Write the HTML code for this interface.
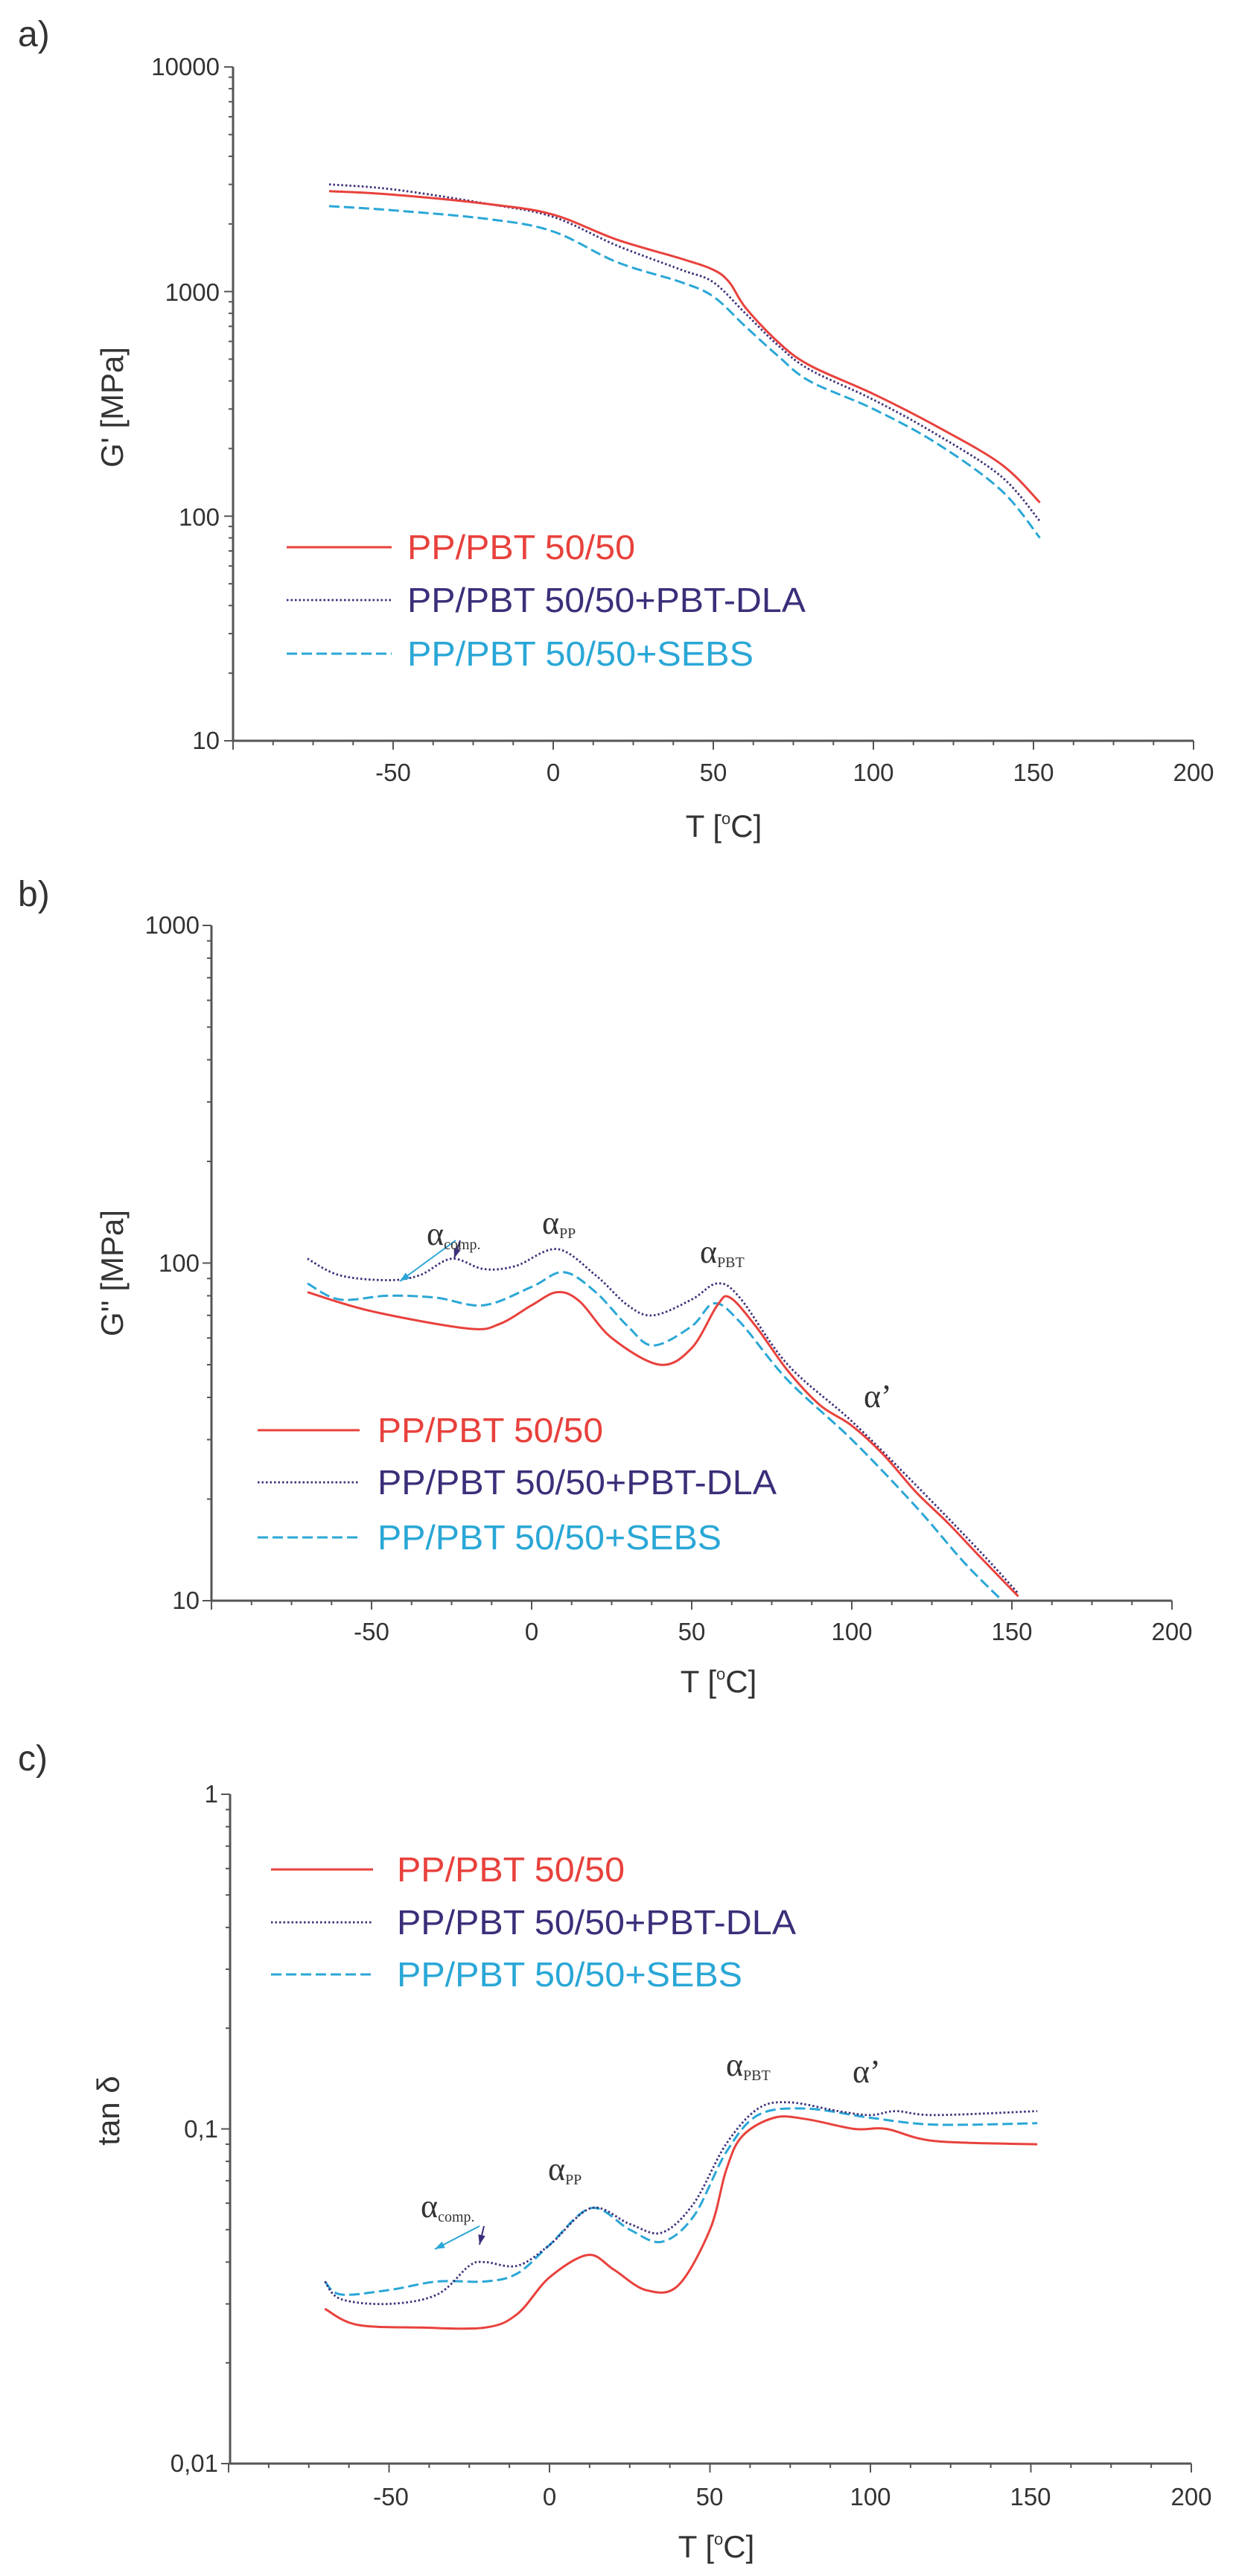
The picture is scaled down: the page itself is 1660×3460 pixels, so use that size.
<!DOCTYPE html>
<html><head><meta charset="utf-8"><style>
html,body{margin:0;padding:0;background:#fff}
svg{display:block}
text{font-family:"Liberation Sans",sans-serif;fill:#333}
.tk{font-size:33px;text-anchor:middle}
.yt{font-size:33px;text-anchor:end}
.lab{font-size:42px}
.pl{font-size:48px}
.lg{font-size:46px}
.gr{font-family:"Liberation Serif",serif;font-size:44px;fill:#333}
.sb{font-family:"Liberation Serif",serif;font-size:20px;fill:#333}
</style></head><body>
<svg width="1660" height="3460" viewBox="0 0 1660 3460" xmlns="http://www.w3.org/2000/svg">
<g id="g"></g>
<!-- panel a -->
<text x="24" y="62" class="pl">a)</text>
<text x="295" y="101" class="yt">10000</text>
<text x="295" y="404" class="yt">1000</text>
<text x="295" y="706" class="yt">100</text>
<text x="295" y="1006" class="yt">10</text>
<text x="528" y="1049" class="tk">-50</text>
<text x="743" y="1049" class="tk">0</text>
<text x="958" y="1049" class="tk">50</text>
<text x="1173" y="1049" class="tk">100</text>
<text x="1388" y="1049" class="tk">150</text>
<text x="1603" y="1049" class="tk">200</text>
<text x="972" y="1124" class="lab" text-anchor="middle">T [<tspan font-size="22" dy="-17">o</tspan><tspan dy="17">C]</tspan></text>
<text transform="translate(165,547) rotate(-90)" class="lab" text-anchor="middle">G' [MPa]</text>
<text x="547" y="751" class="lg" style="fill:#e8413c" textLength="306" lengthAdjust="spacingAndGlyphs">PP/PBT 50/50</text>
<text x="547" y="822" class="lg" style="fill:#3b2f7a" textLength="535" lengthAdjust="spacingAndGlyphs">PP/PBT 50/50+PBT-DLA</text>
<text x="547" y="894" class="lg" style="fill:#2aa7d6" textLength="465" lengthAdjust="spacingAndGlyphs">PP/PBT 50/50+SEBS</text>
<!-- panel b -->
<text x="24" y="1217" class="pl">b)</text>
<text x="268" y="1254" class="yt">1000</text>
<text x="268" y="1708" class="yt">100</text>
<text x="268" y="2161" class="yt">10</text>
<text x="499" y="2203" class="tk">-50</text>
<text x="714" y="2203" class="tk">0</text>
<text x="929" y="2203" class="tk">50</text>
<text x="1144" y="2203" class="tk">100</text>
<text x="1359" y="2203" class="tk">150</text>
<text x="1574" y="2203" class="tk">200</text>
<text x="965" y="2273" class="lab" text-anchor="middle">T [<tspan font-size="22" dy="-17">o</tspan><tspan dy="17">C]</tspan></text>
<text transform="translate(165,1710) rotate(-90)" class="lab" text-anchor="middle">G'' [MPa]</text>
<text x="507" y="1937" class="lg" style="fill:#e8413c" textLength="303" lengthAdjust="spacingAndGlyphs">PP/PBT 50/50</text>
<text x="507" y="2007" class="lg" style="fill:#3b2f7a" textLength="536" lengthAdjust="spacingAndGlyphs">PP/PBT 50/50+PBT-DLA</text>
<text x="507" y="2081" class="lg" style="fill:#2aa7d6" textLength="462" lengthAdjust="spacingAndGlyphs">PP/PBT 50/50+SEBS</text>
<text x="573" y="1672" class="gr">α<tspan class="sb" dy="6">comp.</tspan></text>
<text x="728" y="1657" class="gr">α<tspan class="sb" dy="6">PP</tspan></text>
<text x="940" y="1696" class="gr">α<tspan class="sb" dy="6">PBT</tspan></text>
<text x="1160" y="1890" class="gr">α’</text>
<!-- panel c -->
<text x="24" y="2378" class="pl">c)</text>
<text x="293" y="2421" class="yt">1</text>
<text x="293" y="2871" class="yt">0,1</text>
<text x="293" y="3320" class="yt">0,01</text>
<text x="525" y="3365" class="tk">-50</text>
<text x="738" y="3365" class="tk">0</text>
<text x="953" y="3365" class="tk">50</text>
<text x="1169" y="3365" class="tk">100</text>
<text x="1384" y="3365" class="tk">150</text>
<text x="1600" y="3365" class="tk">200</text>
<text x="962" y="3435" class="lab" text-anchor="middle">T [<tspan font-size="22" dy="-17">o</tspan><tspan dy="17">C]</tspan></text>
<text transform="translate(160,2835) rotate(-90)" class="lab" text-anchor="middle">tan δ</text>
<text x="533" y="2527" class="lg" style="fill:#e8413c" textLength="306" lengthAdjust="spacingAndGlyphs">PP/PBT 50/50</text>
<text x="533" y="2598" class="lg" style="fill:#3b2f7a" textLength="536" lengthAdjust="spacingAndGlyphs">PP/PBT 50/50+PBT-DLA</text>
<text x="533" y="2668" class="lg" style="fill:#2aa7d6" textLength="464" lengthAdjust="spacingAndGlyphs">PP/PBT 50/50+SEBS</text>
<text x="565" y="2978" class="gr">α<tspan class="sb" dy="6">comp.</tspan></text>
<text x="736" y="2928" class="gr">α<tspan class="sb" dy="6">PP</tspan></text>
<text x="975" y="2788" class="gr">α<tspan class="sb" dy="6">PBT</tspan></text>
<text x="1145" y="2797" class="gr">α’</text>
</svg>
<script>
var g=document.getElementById('g'),NS='http://www.w3.org/2000/svg';
function el(t,a){var e=document.createElementNS(NS,t);for(var k in a)e.setAttribute(k,a[k]);g.appendChild(e);return e;}
var R='#e8413c',P='#3b2f7a',C='#2aa7d6';
var sty={r:{stroke:R,'stroke-width':3,fill:'none'},p:{stroke:P,'stroke-width':2.8,fill:'none','stroke-dasharray':'2.5 3'},c:{stroke:C,'stroke-width':3,fill:'none','stroke-dasharray':'14 6'}};
function path(pts){var d='M'+pts[0][0]+','+pts[0][1];for(var i=0;i<pts.length-1;i++){var p0=pts[i-1]||pts[i],p1=pts[i],p2=pts[i+1],p3=pts[i+2]||p2;
d+=' C'+(p1[0]+(p2[0]-p0[0])/6).toFixed(1)+','+(p1[1]+(p2[1]-p0[1])/6).toFixed(1)+' '+(p2[0]-(p3[0]-p1[0])/6).toFixed(1)+','+(p2[1]-(p3[1]-p1[1])/6).toFixed(1)+' '+p2[0].toFixed(1)+','+p2[1].toFixed(1);}return d;}
function panel(o){
 var X=function(t){return o.x0+o.sx*t},Y=function(v){return o.ybot-(Math.log10(v)-o.lmin)*o.dec};
 var ax=o.ax,yt=o.ybot-o.nd*o.dec,yb=o.ybot;
 el('path',{d:'M'+ax+','+yt+'V'+yb+'H'+X(200),stroke:'#555','stroke-width':3,fill:'none'});
 for(var t=-100;t<=200;t+=12.5){var maj=t%50==0;el('line',{x1:X(t),x2:X(t),y1:yb,y2:yb+(maj?12:6),stroke:'#555','stroke-width':2});}
 for(var d=0;d<o.nd;d++)for(var m=1;m<10;m++){var y=yb-(d+Math.log10(m))*o.dec;el('line',{x1:ax,x2:ax-(m==1?12:6),y1:y,y2:y,stroke:'#555','stroke-width':2});}
 el('line',{x1:ax,x2:ax-12,y1:yt,y2:yt,stroke:'#555','stroke-width':2});
 ['c','p','r'].forEach(function(k){var pts=o.d[k].map(function(q){return [X(q[0]),Y(q[1])];});
  var a={d:path(pts)};for(var s in sty[k])a[s]=sty[k][s];el('path',a);});
 o.leg.forEach(function(L,i){var a={x1:o.lx[0],x2:o.lx[1],y1:L,y2:L};var k=['r','p','c'][i];for(var s in sty[k])a[s]=sty[k][s];el('line',a);});
}
panel({x0:743,sx:4.3,ax:313,ybot:995,lmin:1,nd:3,dec:301.7,lx:[385,526],leg:[735,806,878],d:{
r:[[-70,2800],[-50,2700],[-20,2450],[0,2200],[20,1700],[40,1400],[50,1250],[55,1100],[60,850],[70,600],[80,470],[100,350],[120,250],[140,170],[152,115]],
p:[[-70,3000],[-50,2850],[-20,2450],[0,2150],[20,1600],[40,1250],[50,1100],[60,800],[70,580],[80,450],[100,330],[120,230],[140,150],[152,95]],
c:[[-70,2400],[-50,2300],[-20,2100],[0,1850],[20,1350],[40,1100],[50,950],[60,700],[70,520],[80,400],[100,300],[120,210],[140,130],[152,80]]}});
panel({x0:714,sx:4.3,ax:284,ybot:2150,lmin:1,nd:2,dec:453.5,lx:[346,483],leg:[1921,1991,2065],d:{
r:[[-70,82],[-50,72],[-20,64],[-10,66],[0,75],[8,82],[15,77],[25,60],[40,50],[50,56],[58,75],[62,79],[70,65],[80,48],[90,38],[100,33],[110,27],[120,21],[130,17],[140,13.5],[152,10.3]],
p:[[-70,103],[-60,92],[-45,89],[-35,92],[-25,103],[-15,96],[-5,98],[8,110],[20,92],[30,75],[38,70],[50,78],[58,87],[65,79],[80,50],[100,34],[120,22],[140,14],[152,10.5]],
c:[[-70,87],[-60,78],[-45,80],[-30,79],[-15,75],[0,85],[10,94],[20,82],[30,65],[38,57],[50,65],[57,76],[65,67],[80,45],[100,30],[120,19],[135,13],[147,10]]}});
panel({x0:738,sx:4.31,ax:309,ybot:3309,lmin:-2,nd:2,dec:449.5,lx:[364,501],leg:[2511,2582,2652],d:{
r:[[-70,0.029],[-60,0.026],[-40,0.0255],[-20,0.0255],[-10,0.028],[0,0.036],[12,0.042],[20,0.038],[30,0.033],[40,0.034],[50,0.05],[55,0.075],[60,0.095],[70,0.108],[80,0.107],[95,0.1],[105,0.1],[120,0.092],[152,0.09]],
p:[[-70,0.035],[-65,0.031],[-50,0.03],[-35,0.032],[-25,0.039],[-20,0.04],[-10,0.039],[0,0.045],[13,0.058],[25,0.052],[35,0.049],[45,0.06],[55,0.09],[65,0.115],[75,0.12],[90,0.113],[100,0.11],[108,0.113],[120,0.11],[152,0.113]],
c:[[-70,0.035],[-65,0.032],[-50,0.033],[-35,0.035],[-20,0.035],[-10,0.037],[0,0.045],[13,0.058],[25,0.05],[35,0.046],[45,0.055],[55,0.085],[65,0.11],[80,0.115],[100,0.108],[120,0.103],[152,0.104]]}});
function arr(x1,y1,x2,y2,c){el('line',{x1:x1,y1:y1,x2:x2,y2:y2,stroke:c,'stroke-width':2});var a=Math.atan2(y2-y1,x2-x1),L=14;
el('path',{d:'M'+x2+','+y2+'L'+(x2-L*Math.cos(a-0.35))+','+(y2-L*Math.sin(a-0.35))+'L'+(x2-L*Math.cos(a+0.35))+','+(y2-L*Math.sin(a+0.35))+'Z',fill:c});}
arr(612,1666,537,1721,C);arr(618,1666,610,1690,P);
arr(644,2990,584,3021,C);arr(650,2990,644,3015,P);
</script>
</body></html>
